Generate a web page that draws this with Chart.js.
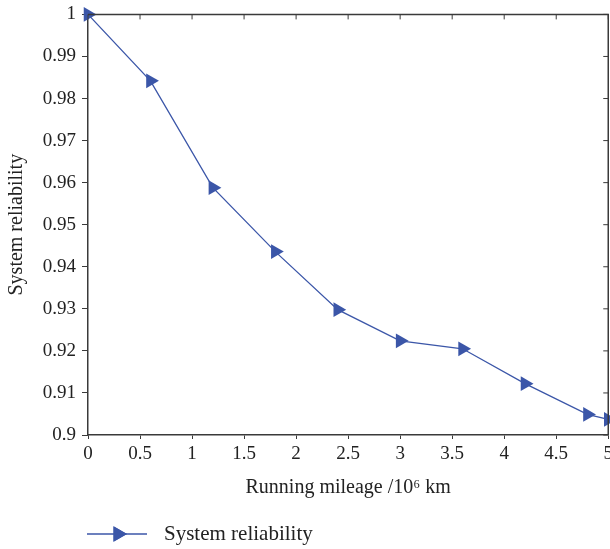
<!DOCTYPE html>
<html>
<head>
<meta charset="utf-8">
<script src="https://cdn.jsdelivr.net/npm/chart.js"></script>
<style>
  html, body { margin: 0; padding: 0; background: #fff; overflow: hidden; }
  #wrap { width: 610px; height: 549px; position: relative; overflow: hidden; }
  #inner { width: 617px; height: 552px; position: absolute; left: 0; top: -3px; }
</style>
</head>
<body>
<div id="wrap"><div id="inner"><canvas id="relChart"></canvas></div></div>
<script>
// Data
const mileage = [0, 0.6, 1.2, 1.8, 2.4, 3.0, 3.6, 4.2, 4.8, 5.0];
const reliability = [1.0, 0.9842, 0.9588, 0.9436, 0.9298, 0.9224, 0.9205, 0.9122, 0.9049, 0.9037];
const xTicks = [0, 0.5, 1, 1.5, 2, 2.5, 3, 3.5, 4, 4.5, 5];
const yTicks = [0.9, 0.91, 0.92, 0.93, 0.94, 0.95, 0.96, 0.97, 0.98, 0.99, 1];

const seriesName = 'System reliability';
const lineColor = '#3b56a8';
const axisColor = '#3a3a3a';
const textColor = '#222';
const fontFamily = "'Liberation Serif', 'DejaVu Serif', serif";

// Draws the top/right frame with inward ticks, plus the legend below the plot
const framePlugin = {
    id: 'frame',
    afterDraw(chart) {
        const ctx = chart.ctx;
        const area = chart.chartArea;
        const xs = chart.scales.x;
        const ys = chart.scales.y;
        ctx.save();
        ctx.strokeStyle = axisColor;
        ctx.lineWidth = 1.5;
        ctx.beginPath();
        ctx.moveTo(area.left, area.top);
        ctx.lineTo(area.right, area.top);
        ctx.lineTo(area.right, area.bottom);
        ctx.stroke();
        ctx.lineWidth = 1;
        xTicks.forEach(v => {
            const px = xs.getPixelForValue(v);
            ctx.beginPath();
            ctx.moveTo(px, area.top);
            ctx.lineTo(px, area.top + 5);
            ctx.stroke();
        });
        yTicks.forEach(v => {
            const py = ys.getPixelForValue(v);
            ctx.beginPath();
            ctx.moveTo(area.right, py);
            ctx.lineTo(area.right - 5, py);
            ctx.stroke();
        });

        // legend
        const ly = 537;
        ctx.strokeStyle = lineColor;
        ctx.lineWidth = 1.3;
        ctx.beginPath();
        ctx.moveTo(87, ly);
        ctx.lineTo(147, ly);
        ctx.stroke();
        ctx.fillStyle = lineColor;
        Chart.helpers.drawPoint(ctx, { pointStyle: 'triangle', radius: 9, rotation: 90 }, 118, ly);
        ctx.fill();
        ctx.fillStyle = textColor;
        ctx.font = '21px ' + fontFamily;
        ctx.textBaseline = 'middle';
        ctx.fillText(seriesName, 164, ly);
        ctx.restore();
    }
};

const ctx = document.getElementById('relChart').getContext('2d');
new Chart(ctx, {
    type: 'line',
    data: {
        datasets: [{
            label: seriesName,
            data: mileage.map((x, i) => ({ x: x, y: reliability[i] })),
            borderColor: lineColor,
            backgroundColor: lineColor,
            borderWidth: 1.3,
            pointStyle: 'triangle',
            pointRotation: 90,
            pointRadius: 8.5,
            pointHoverRadius: 8.5,
            pointBorderWidth: 0,
            tension: 0,
            clip: false
        }]
    },
    options: {
        responsive: true,
        maintainAspectRatio: false,
        animation: false,
        layout: { padding: { top: 14, right: 0, bottom: 49, left: 0 } },
        plugins: {
            legend: { display: false },
            tooltip: { enabled: false }
        },
        scales: {
            x: {
                type: 'linear',
                min: 0,
                max: 5,
                afterBuildTicks: scale => { scale.ticks = xTicks.map(v => ({ value: v })); },
                afterFit: scale => { scale.height = 65; },
                border: { color: axisColor, width: 1.5 },
                grid: { drawOnChartArea: false, tickLength: 4, color: axisColor },
                ticks: {
                    color: textColor,
                    padding: 4,
                    maxRotation: 0,
                    font: { family: fontFamily, size: 19 },
                    callback: v => String(v)
                },
                title: {
                    display: true,
                    text: 'Running mileage /10\u2076 km',
                    color: textColor,
                    padding: { top: 9, bottom: 0 },
                    font: { family: fontFamily, size: 20 }
                }
            },
            y: {
                type: 'linear',
                min: 0.9,
                max: 1,
                afterBuildTicks: scale => { scale.ticks = yTicks.map(v => ({ value: v })); },
                afterFit: scale => { scale.width = 88; },
                border: { color: axisColor, width: 1.5 },
                grid: { drawOnChartArea: false, tickLength: 6, color: axisColor },
                ticks: {
                    color: textColor,
                    padding: 6,
                    font: { family: fontFamily, size: 19 },
                    callback: v => String(parseFloat(v.toFixed(2)))
                },
                title: {
                    display: true,
                    text: 'System reliability',
                    color: textColor,
                    padding: { top: 5, bottom: 4 },
                    font: { family: fontFamily, size: 20 }
                }
            }
        }
    },
    plugins: [framePlugin]
});
</script>
</body>
</html>
